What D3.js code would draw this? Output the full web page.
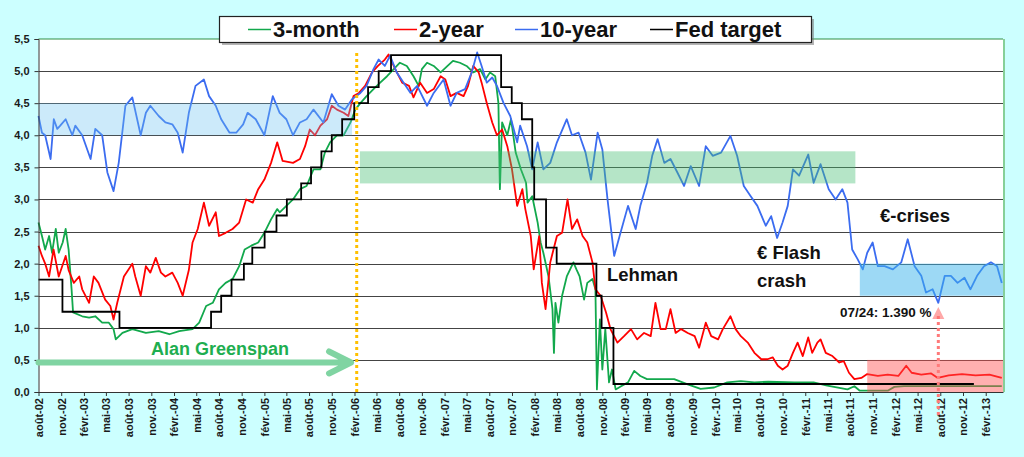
<!DOCTYPE html>
<html>
<head>
<meta charset="utf-8">
<script src="https://cdn.jsdelivr.net/npm/d3@7/dist/d3.min.js"></script>
<style>
  body { margin: 0; background: #ccffff; }
  svg { display: block; font-family: "Liberation Sans", Arial, sans-serif; }
  .grid line { stroke: #444; stroke-width: 1; }
  .axis path, .axis line { stroke: #333; }
  .axis text { font-size: 11px; font-weight: bold; fill: #1a1a1a; }
  .note { font-weight: bold; fill: #111; }
</style>
</head>
<body>
<svg width="1024" height="457"></svg>
<script>
// month names used on the date axis
var frMonths = ["janv.", "févr.", "mars", "avr.", "mai", "juin", "juil.", "août", "sept.", "oct.", "nov.", "déc."];
var seriesNames = ["3-month", "2-year", "10-year", "Fed target"];
var seriesColors = ["#12a84c", "#ff0000", "#3b6cf0", "#000000"];

var threeMonth = [
  ["2002-08-01",2.64],["2002-08-15",2.43],["2002-08-28",2.22],["2002-09-13",2.43],["2002-09-25",2.17],
  ["2002-10-10",2.54],["2002-10-22",2.17],["2002-11-07",2.33],["2002-11-19",2.54],["2002-12-01",2.22],
  ["2002-12-13",1.6],["2002-12-19",1.24],["2003-01-25",1.18],["2003-02-22",1.16],["2003-03-19",1.18],
  ["2003-04-16",1.08],["2003-05-13",1.08],["2003-06-01",0.98],["2003-06-10",0.82],["2003-07-07",0.92],
  ["2003-08-16",0.98],["2003-10-10",0.92],["2003-12-01",0.95],["2004-01-13",0.9],["2004-02-22",0.95],
  ["2004-04-16",0.98],["2004-05-13",1.08],["2004-06-10",1.34],["2004-07-07",1.39],["2004-08-01",1.6],
  ["2004-08-28",1.7],["2004-09-25",1.76],["2004-10-22",1.96],["2004-11-13",2.22],["2004-12-10",2.28],
  ["2005-01-07",2.33],["2005-02-01",2.48],["2005-02-28",2.69],["2005-03-25",2.85],["2005-04-04",2.8],
  ["2005-05-01",2.9],["2005-05-28",3.0],["2005-06-25",3.16],["2005-07-22",3.21],["2005-08-19",3.47],
  ["2005-09-16",3.47],["2005-10-04",3.73],["2005-10-25",3.89],["2005-11-22",4.0],["2005-12-19",4.0],
  ["2006-01-16",4.2],["2006-02-04",4.4],["2006-02-25",4.5],["2006-03-22",4.61],["2006-04-19",4.72],
  ["2006-05-16",4.82],["2006-06-13",4.92],["2006-07-10",5.03],["2006-08-04",5.13],["2006-09-01",5.08],
  ["2006-09-28",4.92],["2006-10-19",4.77],["2006-11-01",5.03],["2006-11-22",5.13],["2006-12-19",5.08],
  ["2007-01-16",4.98],["2007-02-13",5.08],["2007-03-07",5.16],["2007-04-04",5.13],["2007-05-01",5.08],
  ["2007-05-28",4.98],["2007-06-25",5.03],["2007-07-16",4.87],["2007-08-04",4.98],["2007-08-25",4.92],
  ["2007-09-07",4.5],["2007-09-13",3.16],["2007-09-22",4.2],["2007-10-13",4.0],["2007-10-28",4.25],
  ["2007-11-16",3.73],["2007-12-07",3.47],["2007-12-28",3.26],["2008-01-03",2.95],["2008-01-22",3.05],
  ["2008-02-13",2.64],["2008-02-25",2.33],["2008-03-07",2.17],["2008-03-28",1.8],["2008-04-13",1.29],
  ["2008-04-19",0.61],["2008-04-25",1.39],["2008-05-07",1.08],["2008-05-22",1.5],["2008-06-10",1.8],
  ["2008-07-07",2.02],["2008-07-19",1.91],["2008-08-01",1.8],["2008-08-19",1.44],["2008-09-01",1.7],
  ["2008-09-22",1.76],["2008-10-04",1.6],["2008-10-10",0.04],["2008-10-22",1.13],["2008-11-01",0.35],
  ["2008-11-13",0.98],["2008-11-28",0.15],["2008-12-10",0.35],["2008-12-25",0.04],["2009-01-16",0.09],
  ["2009-02-13",0.15],["2009-03-10",0.33],["2009-04-04",0.25],["2009-05-01",0.2],["2009-06-25",0.2],
  ["2009-08-19",0.2],["2009-10-13",0.12],["2009-12-04",0.05],["2010-01-28",0.07],["2010-03-22",0.15],
  ["2010-05-16",0.17],["2010-07-10",0.15],["2010-09-04",0.16],["2010-12-19",0.15],["2011-03-07",0.15],
  ["2011-05-01",0.1],["2011-07-22",0.04],["2011-08-19",0.09],["2011-09-10",0.02],["2012-01-01",0.02],
  ["2012-01-28",0.08],["2012-03-07",0.09],["2013-04-07",0.09]
];

var twoYear = [
  ["2002-08-01",2.28],["2002-08-15",2.12],["2002-08-28",2.0],["2002-09-13",1.8],["2002-10-01",2.22],
  ["2002-10-22",1.8],["2002-11-19",2.12],["2002-12-01",1.9],["2002-12-22",1.7],["2003-01-13",1.8],
  ["2003-01-25",1.6],["2003-02-22",1.39],["2003-03-13",1.8],["2003-04-01",1.7],["2003-04-28",1.44],
  ["2003-05-19",1.34],["2003-06-01",1.13],["2003-06-16",1.39],["2003-07-13",1.8],["2003-08-16",2.0],
  ["2003-08-28",1.8],["2003-09-19",1.5],["2003-10-10",1.96],["2003-10-28",1.86],["2003-11-19",2.09],
  ["2003-12-10",1.86],["2003-12-28",1.8],["2004-01-25",1.86],["2004-02-16",1.7],["2004-03-07",1.5],
  ["2004-04-01",1.9],["2004-04-16",2.33],["2004-05-07",2.54],["2004-06-01",2.95],["2004-06-22",2.59],
  ["2004-07-19",2.8],["2004-08-01",2.43],["2004-08-28",2.48],["2004-09-25",2.54],["2004-10-22",2.64],
  ["2004-11-19",3.0],["2004-12-16",2.95],["2005-01-07",3.16],["2005-02-01",3.31],["2005-02-28",3.57],
  ["2005-03-25",3.89],["2005-04-16",3.6],["2005-05-28",3.57],["2005-06-25",3.63],["2005-07-16",3.83],
  ["2005-08-04",4.09],["2005-08-25",4.0],["2005-09-16",4.15],["2005-10-13",4.25],["2005-11-01",4.46],
  ["2005-11-22",4.4],["2005-12-19",4.35],["2006-01-07",4.3],["2006-01-28",4.61],["2006-02-19",4.66],
  ["2006-03-16",4.77],["2006-04-13",4.98],["2006-05-07",5.08],["2006-06-04",5.18],["2006-06-19",5.26],
  ["2006-07-16",5.03],["2006-08-13",4.82],["2006-09-10",4.77],["2006-09-28",4.59],["2006-10-25",4.82],
  ["2006-11-22",4.66],["2006-12-19",4.72],["2007-01-16",4.92],["2007-02-04",4.87],["2007-02-25",4.61],
  ["2007-03-22",4.66],["2007-04-19",4.61],["2007-05-07",4.77],["2007-05-28",5.08],["2007-06-19",4.98],
  ["2007-07-01",4.82],["2007-07-22",4.5],["2007-08-13",4.2],["2007-09-01",4.0],["2007-09-22",4.09],
  ["2007-10-13",3.83],["2007-11-01",3.47],["2007-11-22",2.9],["2007-12-13",3.16],["2007-12-25",2.85],
  ["2008-01-16",2.43],["2008-01-28",1.91],["2008-02-19",2.43],["2008-03-01",1.7],["2008-03-16",1.29],
  ["2008-04-04",2.02],["2008-05-01",2.43],["2008-05-22",2.48],["2008-06-13",3.0],["2008-07-01",2.54],
  ["2008-07-22",2.69],["2008-08-13",2.43],["2008-09-01",2.33],["2008-09-22",2.02],["2008-10-04",1.6],
  ["2008-10-25",1.5],["2008-11-16",1.24],["2008-12-04",0.98],["2009-01-01",0.77],["2009-01-28",0.87],
  ["2009-02-25",0.98],["2009-03-22",0.82],["2009-04-19",0.92],["2009-05-16",0.87],["2009-06-04",1.39],
  ["2009-06-25",0.98],["2009-07-16",0.98],["2009-08-04",1.29],["2009-08-25",0.92],["2009-09-16",0.98],
  ["2009-10-13",0.92],["2009-11-10",0.87],["2009-11-28",0.69],["2009-12-25",1.08],["2010-01-16",0.87],
  ["2010-02-13",0.82],["2010-03-04",0.98],["2010-04-04",1.18],["2010-04-25",0.98],["2010-05-16",0.87],
  ["2010-06-13",0.77],["2010-07-10",0.61],["2010-08-07",0.51],["2010-09-01",0.51],["2010-09-22",0.54],
  ["2010-10-13",0.41],["2010-11-01",0.35],["2010-11-22",0.41],["2010-12-13",0.61],["2011-01-01",0.77],
  ["2011-01-22",0.56],["2011-02-13",0.85],["2011-03-01",0.61],["2011-03-22",0.77],["2011-04-04",0.82],
  ["2011-04-25",0.61],["2011-05-22",0.56],["2011-06-19",0.46],["2011-07-07",0.48],["2011-07-28",0.3],
  ["2011-08-19",0.2],["2011-09-16",0.22],["2011-10-10",0.28],["2011-11-22",0.25],["2012-01-01",0.27],
  ["2012-02-13",0.25],["2012-03-16",0.41],["2012-04-07",0.3],["2012-05-16",0.27],["2012-06-25",0.29],
  ["2012-07-22",0.22],["2012-09-04",0.26],["2012-10-28",0.28],["2012-12-22",0.26],["2013-02-16",0.27],
  ["2013-04-07",0.22]
];

var tenYear = [
  ["2002-08-01",4.3],["2002-08-15",4.04],["2002-08-28",4.0],["2002-09-19",3.63],["2002-10-02",4.25],
  ["2002-10-16",4.1],["2002-10-28",4.15],["2002-11-19",4.25],["2002-12-16",4.0],["2002-12-28",4.15],
  ["2003-01-25",4.0],["2003-02-28",3.63],["2003-03-19",4.1],["2003-04-16",4.0],["2003-05-07",3.42],
  ["2003-06-01",3.13],["2003-06-22",3.57],["2003-07-19",4.46],["2003-08-16",4.59],["2003-09-19",4.0],
  ["2003-10-10",4.35],["2003-10-28",4.46],["2003-12-01",4.3],["2003-12-28",4.2],["2004-01-25",4.17],
  ["2004-02-16",4.04],["2004-03-07",3.73],["2004-04-01",4.35],["2004-04-28",4.77],["2004-06-01",4.87],
  ["2004-06-22",4.61],["2004-07-19",4.46],["2004-08-10",4.25],["2004-09-13",4.04],["2004-10-10",4.04],
  ["2004-11-07",4.17],["2004-11-25",4.35],["2004-12-28",4.25],["2005-02-01",4.0],["2005-03-07",4.61],
  ["2005-04-04",4.35],["2005-05-01",4.25],["2005-05-28",4.0],["2005-06-25",4.2],["2005-07-22",4.25],
  ["2005-08-19",4.4],["2005-09-28",4.2],["2005-11-01",4.64],["2005-11-28",4.46],["2005-12-25",4.4],
  ["2006-01-22",4.56],["2006-02-25",4.66],["2006-03-22",4.77],["2006-04-19",5.03],["2006-05-10",5.18],
  ["2006-06-04",5.08],["2006-06-25",5.24],["2006-07-22",4.98],["2006-08-19",4.82],["2006-09-16",4.66],
  ["2006-10-13",4.77],["2006-11-22",4.46],["2006-12-19",4.66],["2007-01-28",4.87],["2007-02-25",4.46],
  ["2007-03-22",4.66],["2007-04-25",4.72],["2007-05-22",4.98],["2007-06-13",5.29],["2007-07-01",5.08],
  ["2007-07-22",4.82],["2007-08-13",4.9],["2007-09-01",4.77],["2007-09-28",4.5],["2007-10-25",4.3],
  ["2007-11-22",3.89],["2007-12-04",4.15],["2008-01-01",3.83],["2008-01-22",3.47],["2008-02-13",3.89],
  ["2008-03-07",3.47],["2008-04-04",3.57],["2008-05-01",3.89],["2008-06-10",4.25],["2008-07-01",4.0],
  ["2008-07-28",4.04],["2008-08-25",3.73],["2008-09-16",3.31],["2008-10-13",4.04],["2008-11-01",3.78],
  ["2008-11-22",3.0],["2008-12-19",2.12],["2009-01-10",2.43],["2009-02-13",2.9],["2009-03-16",2.54],
  ["2009-04-04",2.9],["2009-05-01",3.26],["2009-05-22",3.68],["2009-06-13",3.94],["2009-07-10",3.57],
  ["2009-08-04",3.63],["2009-09-01",3.42],["2009-09-28",3.21],["2009-10-25",3.52],["2009-11-28",3.21],
  ["2009-12-25",3.83],["2010-01-22",3.68],["2010-02-25",3.73],["2010-04-04",3.99],["2010-05-01",3.68],
  ["2010-05-28",3.21],["2010-06-25",3.05],["2010-07-22",2.9],["2010-08-25",2.59],["2010-09-16",2.74],
  ["2010-10-10",2.4],["2010-11-01",2.64],["2010-11-22",2.9],["2010-12-13",3.47],["2011-01-07",3.37],
  ["2011-02-13",3.7],["2011-03-07",3.26],["2011-04-04",3.55],["2011-05-07",3.16],["2011-06-04",3.0],
  ["2011-07-01",3.16],["2011-07-22",2.95],["2011-08-10",2.22],["2011-09-01",2.07],["2011-09-22",1.91],
  ["2011-10-10",2.17],["2011-11-01",2.33],["2011-11-22",1.96],["2011-12-19",1.96],["2012-01-22",1.91],
  ["2012-02-25",2.02],["2012-03-22",2.38],["2012-04-19",1.96],["2012-05-16",1.81],["2012-06-04",1.55],
  ["2012-07-01",1.6],["2012-07-24",1.39],["2012-08-19",1.81],["2012-09-13",1.81],["2012-10-10",1.7],
  ["2012-11-07",1.78],["2012-12-01",1.6],["2012-12-28",1.81],["2013-01-25",1.96],["2013-02-22",2.02],
  ["2013-03-19",1.96],["2013-04-07",1.7]
];

var fedTarget = [
  ["2002-08-01",1.75],["2002-11-06",1.25],["2003-06-25",1.0],["2004-06-30",1.25],["2004-08-10",1.5],
  ["2004-09-21",1.75],["2004-11-10",2.0],["2004-12-14",2.25],["2005-02-02",2.5],["2005-03-22",2.75],
  ["2005-05-03",3.0],["2005-06-30",3.25],["2005-08-09",3.5],["2005-09-20",3.75],["2005-11-01",4.0],
  ["2005-12-13",4.25],["2006-01-31",4.5],["2006-03-28",4.75],["2006-05-10",5.0],["2006-06-29",5.25],
  ["2007-09-18",4.75],["2007-10-31",4.5],["2007-12-11",4.25],["2008-01-22",3.5],["2008-01-30",3.0],
  ["2008-03-18",2.25],["2008-04-30",2.0],["2008-10-08",1.5],["2008-10-29",1.0],["2008-12-16",0.125],
  ["2012-12-15",0.125]
];

// shaded ranges: [from, to, low, high]
var bands = [
  ["2002-08-01", "2006-01-22", 4.0, 4.5, "rgba(110,195,240,0.35)"],
  ["2006-02-23", "2011-08-23", 3.25, 3.75, "rgba(70,190,115,0.40)"],
  ["2011-09-10", "2013-04-12", 1.5, 2.0, "rgba(60,180,235,0.50)"],
  ["2011-10-10", "2013-04-12", 0.0, 0.5, "rgba(255,80,80,0.45)"]
];

var parse = d3.timeParse("%Y-%m-%d");
var svg = d3.select("svg");
var plotLeft = 38.5, plotRight = 1003, plotTop = 39, plotBottom = 392;

var x = d3.scaleTime()
    .domain([parse("2002-08-01"), parse("2013-04-12")])
    .range([plotLeft, plotRight]);
var y = d3.scaleLinear().domain([0, 5.5]).range([plotBottom, plotTop]);

// plot background + frame
svg.append("rect").attr("x", plotLeft).attr("y", plotTop)
    .attr("width", plotRight - plotLeft).attr("height", plotBottom - plotTop)
    .attr("fill", "#fff");
svg.append("line").attr("x1", plotLeft).attr("x2", plotRight).attr("y1", plotTop).attr("y2", plotTop)
    .attr("stroke", "#2f8f45").attr("stroke-width", 1);
svg.append("line").attr("x1", plotRight + 1).attr("x2", plotRight + 1).attr("y1", plotTop).attr("y2", plotBottom)
    .attr("stroke", "#86cf98").attr("stroke-width", 2);

// horizontal grid
svg.append("g").attr("class", "grid")
    .selectAll("line")
    .data(d3.range(0.5, 5.01, 0.5))
    .enter().append("line")
      .attr("x1", plotLeft).attr("x2", plotRight)
      .attr("y1", function(d) { return Math.round(y(d)) + 0.5; })
      .attr("y2", function(d) { return Math.round(y(d)) + 0.5; });

function lineOf(curve) {
  return d3.line()
      .x(function(d) { return x(parse(d[0])); })
      .y(function(d) { return y(d[1]); })
      .curve(curve);
}

var plot = svg.append("g");
[threeMonth, twoYear, tenYear].forEach(function(s, i) {
  plot.append("path")
      .datum(s)
      .attr("fill", "none")
      .attr("stroke", seriesColors[i])
      .attr("stroke-width", 1.8)
      .attr("stroke-linejoin", "round")
      .attr("d", lineOf(d3.curveLinear));
});

// shaded bands over the market rates
svg.append("g").selectAll("rect")
    .data(bands)
    .enter().append("rect")
      .attr("x", function(d) { return x(parse(d[0])); })
      .attr("width", function(d) { return x(parse(d[1])) - x(parse(d[0])); })
      .attr("y", function(d) { return y(d[3]); })
      .attr("height", function(d) { return y(d[2]) - y(d[3]); })
      .attr("fill", function(d) { return d[4]; });

svg.append("path")
    .datum(fedTarget)
    .attr("fill", "none")
    .attr("stroke", seriesColors[3])
    .attr("stroke-width", 1.8)
    .attr("d", lineOf(d3.curveStepAfter));

// axes
var yAxis = d3.axisLeft(y)
    .tickValues(d3.range(0, 5.51, 0.5))
    .tickSize(4)
    .tickFormat(function(d) { return d3.format(".1f")(d).replace(".", ","); });
svg.append("g").attr("class", "axis")
    .attr("transform", "translate(" + plotLeft + ",0)")
    .call(yAxis)
    .selectAll("text").attr("x", -9);

var xTicks = d3.timeMonth.range(parse("2002-08-01"), parse("2013-04-01"), 3);
var xAxis = d3.axisBottom(x)
    .tickValues(xTicks)
    .tickSize(4)
    .tickSizeOuter(0)
    .tickFormat(function(d) { return frMonths[d.getMonth()] + "-" + d3.timeFormat("%y")(d); });
svg.append("g").attr("class", "axis")
    .attr("transform", "translate(0," + plotBottom + ")")
    .call(xAxis)
    .selectAll("text")
      .attr("transform", "rotate(-90)")
      .attr("text-anchor", "end")
      .attr("x", -6).attr("y", 0).attr("dy", "0.35em");

// Bernanke start marker
svg.append("line")
    .attr("x1", x(parse("2006-02-10"))).attr("x2", x(parse("2006-02-10")))
    .attr("y1", 53).attr("y2", plotBottom + 2)
    .attr("stroke", "#ffc000").attr("stroke-width", 3)
    .attr("stroke-dasharray", "3,3");

// Greenspan arrow
var arrowY = y(0.46), arrowEnd = x(parse("2006-01-18"));
svg.append("path")
    .attr("d", "M" + plotLeft + "," + arrowY + "H" + arrowEnd +
          "M" + (arrowEnd - 22) + "," + (arrowY - 11) + "L" + arrowEnd + "," + arrowY +
          "L" + (arrowEnd - 22) + "," + (arrowY + 11))
    .attr("fill", "none").attr("stroke", "#80d4a2").attr("stroke-width", 6)
    .attr("stroke-linecap", "round").attr("stroke-linejoin", "round");
svg.append("text").attr("x", 151).attr("y", 355)
    .attr("font-size", 18).attr("font-weight", "bold").attr("fill", "#1eae50")
    .text("Alan Greenspan");

// 10-year low marker
var lowX = x(parse("2012-07-24"));
svg.append("line")
    .attr("x1", lowX).attr("x2", lowX).attr("y1", 316).attr("y2", 418)
    .attr("stroke", "#ff7a7a").attr("stroke-width", 3).attr("stroke-dasharray", "3,3");
svg.append("path")
    .attr("d", "M" + (lowX - 6) + ",319L" + lowX + ",307L" + (lowX + 6) + ",319Z")
    .attr("fill", "rgba(255,110,110,0.6)");

svg.append("text").attr("class", "note").attr("x", 840).attr("y", 317)
    .attr("font-size", 13.5).text("07/24: 1.390 %");
svg.append("text").attr("class", "note").attr("x", 607).attr("y", 281)
    .attr("font-size", 18.5).text("Lehman");
svg.append("text").attr("class", "note").attr("x", 757).attr("y", 259)
    .attr("font-size", 18.5).text("€ Flash");
svg.append("text").attr("class", "note").attr("x", 757).attr("y", 287)
    .attr("font-size", 18.5).text("crash");
svg.append("text").attr("class", "note").attr("x", 880).attr("y", 222)
    .attr("font-size", 18.5).text("€-crises");

// legend
var legend = svg.append("g");
legend.append("rect").attr("x", 222).attr("y", 19).attr("width", 592).attr("height", 26)
    .attr("fill", "#777").attr("opacity", 0.55);
legend.append("rect").attr("x", 219.5).attr("y", 16.5).attr("width", 592).attr("height", 26)
    .attr("fill", "#fff").attr("stroke", "#222").attr("stroke-width", 1.2);
var legendX = [248, 394, 515, 650];
seriesNames.forEach(function(name, i) {
  legend.append("line")
      .attr("x1", legendX[i]).attr("x2", legendX[i] + 23)
      .attr("y1", 29.5).attr("y2", 29.5)
      .attr("stroke", seriesColors[i]).attr("stroke-width", 1.5);
  legend.append("text")
      .attr("x", legendX[i] + 25).attr("y", 36.5)
      .attr("font-size", 22).attr("font-weight", "bold").attr("fill", "#111")
      .text(name);
});
</script>
</body>
</html>
